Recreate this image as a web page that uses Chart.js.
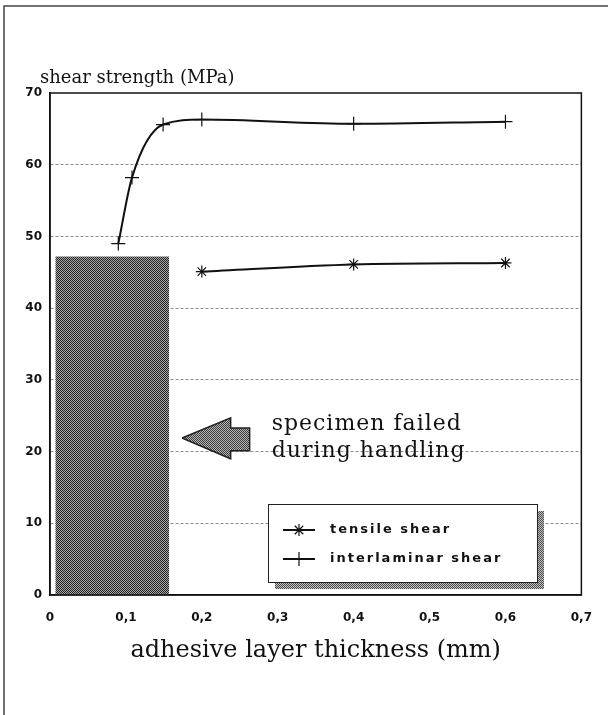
<!DOCTYPE html>
<html>
<head>
<meta charset="utf-8">
<script src="https://cdn.jsdelivr.net/npm/chart.js@4.4.1/dist/chart.umd.min.js"></script>
<style>
  html, body { margin: 0; padding: 0; background: #fff; }
  #wrap { position: relative; width: 608px; height: 715px; }
  canvas { display: block; }
</style>
</head>
<body>
<div id="wrap"><canvas id="c" width="608" height="715"></canvas></div>
<script>
// ---- data ----
const thicknessInter = [0.090, 0.108, 0.149, 0.200, 0.400, 0.600];
const shearInter     = [49.0, 58.2, 65.6, 66.3, 65.7, 66.0];
const thicknessTensile = [0.200, 0.400, 0.600];
const shearTensile     = [45.1, 46.1, 46.3];
const seriesLabels = ['tensile shear', 'interlaminar shear'];
const xTickLabels = ['0', '0,1', '0,2', '0,3', '0,4', '0,5', '0,6', '0,7'];
const yTickLabels = ['0', '10', '20', '30', '40', '50', '60', '70'];
const yTitle = 'shear strength (MPa)';
const xTitle = 'adhesive layer thickness (mm)';
// region of specimens that failed during handling (x range, top value)
const failedRangeX = [0.007, 0.157];
const failedTop = 47.2;
// arrow annotation outline (data units)
const arrowX = [0.174, 0.238, 0.238, 0.263, 0.263, 0.238, 0.238, 0.174];
const arrowY = [21.9, 24.7, 23.3, 23.3, 20.1, 20.1, 19.0, 21.9];
const noteLines = ['specimen failed', 'during handling'];
const noteX = 0.292;
const noteY = [23.8, 20.0];

const canvas = document.getElementById('c');
const ctx0 = canvas.getContext('2d');
function makePattern(dark, light) {
  const c = document.createElement('canvas');
  c.width = 2; c.height = 2;
  const g = c.getContext('2d');
  g.fillStyle = light; g.fillRect(0, 0, 2, 2);
  g.fillStyle = dark; g.fillRect(0, 0, 1, 1); g.fillRect(1, 1, 1, 1);
  return ctx0.createPattern(c, 'repeat');
}
const boxPattern = makePattern('#222222', '#a8a8a8');
const arrowPattern = makePattern('#3a3a3a', '#b8b8b8');
const shadowPattern = makePattern('#4a4a4a', '#c4c4c4');

const toPts = (xs, ys) => xs.map((x, i) => ({ x: x, y: ys[i] }));

const decor = {
  id: 'decor',
  beforeDraw(chart) {
    const ctx = chart.ctx, ca = chart.chartArea;
    ctx.save();
    ctx.fillStyle = '#fff';
    ctx.fillRect(0, 0, chart.width, chart.height);
    // scanned page frame
    ctx.strokeStyle = '#444';
    ctx.lineWidth = 1.5;
    ctx.beginPath();
    ctx.moveTo(4, chart.height); ctx.lineTo(4, 6); ctx.lineTo(chart.width, 6);
    ctx.stroke();
    // y axis title (horizontal, above the plot)
    ctx.fillStyle = '#111';
    ctx.font = '18px "DejaVu Serif"';
    ctx.textAlign = 'left';
    ctx.textBaseline = 'alphabetic';
    ctx.fillText(yTitle, ca.left - 10, ca.top - 10);
    ctx.restore();
  },
  afterDatasetsDraw(chart) {
    const ctx = chart.ctx, ca = chart.chartArea;
    const xs = chart.scales.x, ys = chart.scales.y;
    ctx.save();
    // annotation text
    ctx.fillStyle = '#111';
    ctx.font = '22px "DejaVu Serif"';
    ctx.letterSpacing = '1px';
    ctx.textAlign = 'left';
    ctx.textBaseline = 'middle';
    noteLines.forEach((t, i) => ctx.fillText(t, xs.getPixelForValue(noteX), ys.getPixelForValue(noteY[i])));
    ctx.letterSpacing = '0px';
    // legend box with shadow
    const L = ca.left + 218, T = ca.top + 411, W = 269, H = 78;
    ctx.fillStyle = shadowPattern;
    ctx.fillRect(L + 7, T + 7, W, H);
    ctx.fillStyle = '#fff';
    ctx.fillRect(L, T, W, H);
    ctx.strokeStyle = '#222';
    ctx.lineWidth = 1;
    ctx.strokeRect(L + 0.5, T + 0.5, W, H);
    chart.data.datasets.slice(0, 2).forEach((ds, i) => {
      const cy = T + 26 + i * 29;
      ctx.strokeStyle = '#111';
      ctx.lineWidth = 2;
      ctx.beginPath(); ctx.moveTo(L + 15, cy); ctx.lineTo(L + 47, cy); ctx.stroke();
      ctx.lineWidth = 1.2;
      Chart.helpers.drawPoint(ctx, { pointStyle: ds.pointStyle, radius: ds.pointRadius, borderWidth: 1.2, rotation: 0 }, L + 31, cy);
      ctx.fillStyle = '#111';
      ctx.font = 'bold 13px "DejaVu Sans"';
      ctx.letterSpacing = '2px';
      ctx.textBaseline = 'middle';
      ctx.fillText(ds.label, L + 62, cy);
      ctx.letterSpacing = '0px';
    });
    ctx.restore();
  },
  afterDraw(chart) {
    const ctx = chart.ctx, ca = chart.chartArea;
    ctx.save();
    ctx.strokeStyle = '#111';
    ctx.lineWidth = 1.5;
    ctx.strokeRect(ca.left, ca.top, ca.right - ca.left, ca.bottom - ca.top);
    ctx.restore();
  }
};

new Chart(canvas, {
  type: 'line',
  data: {
    datasets: [
      {
        label: seriesLabels[0],
        data: toPts(thicknessTensile, shearTensile),
        borderColor: '#111', backgroundColor: '#111', borderWidth: 2,
        pointStyle: 'star', pointRadius: 6, pointBorderWidth: 1.2, pointBorderColor: '#111',
        cubicInterpolationMode: 'monotone', fill: false
      },
      {
        label: seriesLabels[1],
        data: toPts(thicknessInter, shearInter),
        borderColor: '#111', backgroundColor: '#111', borderWidth: 2,
        pointStyle: 'cross', pointRadius: 7, pointBorderWidth: 1.2, pointBorderColor: '#111',
        cubicInterpolationMode: 'monotone', fill: false
      },
      {
        label: 'failed during handling',
        data: failedRangeX.map(x => ({ x: x, y: failedTop })),
        borderWidth: 0, pointRadius: 0, backgroundColor: boxPattern, borderColor: 'rgba(0,0,0,0)',
        fill: 'origin', tension: 0
      },
      {
        label: 'arrow',
        data: toPts(arrowX, arrowY),
        borderColor: '#222', borderWidth: 1.5, pointRadius: 0, backgroundColor: arrowPattern,
        fill: 'shape', tension: 0
      }
    ]
  },
  options: {
    responsive: false,
    animation: false,
    events: [],
    layout: { padding: { top: 93, right: 26, left: 0, bottom: 0 } },
    plugins: { legend: { display: false }, tooltip: { enabled: false }, title: { display: false } },
    scales: {
      x: {
        type: 'linear', min: 0, max: 0.7,
        grid: { display: false, drawTicks: false },
        border: { display: true, color: '#111', width: 1.5 },
        ticks: {
          stepSize: 0.1, padding: 16, autoSkip: false, maxRotation: 0, color: '#111',
          font: { family: 'DejaVu Sans', size: 12, weight: 'bold' },
          callback: (v, i) => xTickLabels[i]
        },
        title: {
          display: true, text: xTitle, color: '#111',
          font: { family: 'DejaVu Serif', size: 24, weight: 'normal' },
          padding: { top: 0, bottom: 50 }
        },
        afterFit: (s) => { s.height = 120; }
      },
      y: {
        min: 0, max: 70,
        grid: {
          drawTicks: false, lineWidth: 1,
          color: (c) => (c.tick && (c.tick.value === 0 || c.tick.value === 70)) ? 'rgba(0,0,0,0)' : '#8c8c8c'
        },
        border: { display: true, color: '#111', width: 1.5, dash: [3, 2] },
        ticks: {
          stepSize: 10, padding: 8, color: '#111',
          font: { family: 'DejaVu Sans', size: 12, weight: 'bold' },
          callback: (v, i) => yTickLabels[i]
        },
        afterFit: (s) => { s.width = 50; }
      }
    }
  },
  plugins: [decor]
});
</script>
</body>
</html>
